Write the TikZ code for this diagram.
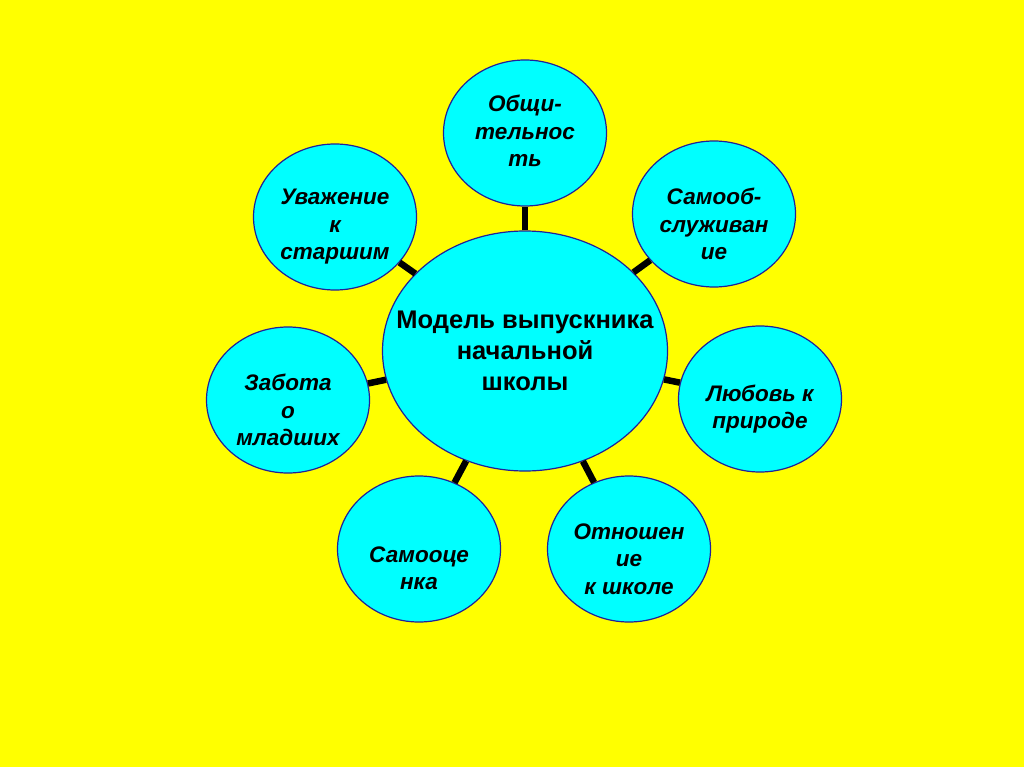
\documentclass[tikz,border=0pt]{standalone}
\usepackage{fontspec}
\setmainfont{Liberation Sans}
\usetikzlibrary{shapes.geometric}
\definecolor{slidebg}{HTML}{FFFF00}
\definecolor{bubblefill}{HTML}{00FFFF}
\definecolor{bubbleline}{HTML}{20209A}
\tikzset{
  model hub/.style={ellipse,draw=bubbleline,fill=bubblefill,line width=1.2pt,
    minimum width=285pt,minimum height=240pt,inner xsep=-40pt,inner ysep=0pt,
    align=center,font=\fontsize{25.5}{31}\selectfont\bfseries},
  model trait/.style={ellipse,draw=bubbleline,fill=bubblefill,line width=1.2pt,
    minimum width=163pt,minimum height=146pt,inner sep=0pt},
  trait text/.style={align=center,yshift=-10pt,
    font=\fontsize{22.5}{27.5}\selectfont\bfseries\itshape},
  model link/.style={black,line width=6.5pt}
}

\begin{document}
\begin{tikzpicture}[x=1pt,y=-1pt]
  \fill[slidebg] (0,0) rectangle (1024,767);
  \useasboundingbox (0,0) rectangle (1024,767);
  \node[model hub] (hub) at (525,351) {Модель выпускника\\начальной\\школы};
  \node[model trait,label={[trait text,yshift=12pt]center:{Общи-\\тельнос\\ть}}] (social) at (525,133) {};
  \node[model trait,label={[trait text]center:{Самооб-\\служиван\\ие}}] (selfcare) at (714,214) {};
  \node[model trait,label={[trait text]center:{Любовь к\\природе}}] (nature) at (760,399) {};
  \node[model trait,label={[trait text]center:{Отношен\\ие\\к школе}}] (school) at (629,549) {};
  \node[model trait,label={[trait text,yshift=-9pt]center:{Самооце\\нка}}] (selfesteem) at (419,549) {};
  \node[model trait,label={[trait text]center:{Забота\\о\\младших}}] (care) at (288,400) {};
  \node[model trait,label={[trait text]center:{Уважение\\к\\старшим}}] (respect) at (335,217) {};
  % short bars between the hub and each trait
  \draw[model link] (hub) -- (social);
  \draw[model link] (hub) -- (selfcare);
  \draw[model link] (hub) -- (nature);
  \draw[model link] (hub) -- (school);
  \draw[model link] (hub) -- (selfesteem);
  \draw[model link] (hub) -- (care);
  \draw[model link] (hub) -- (respect);
\end{tikzpicture}
\end{document}
